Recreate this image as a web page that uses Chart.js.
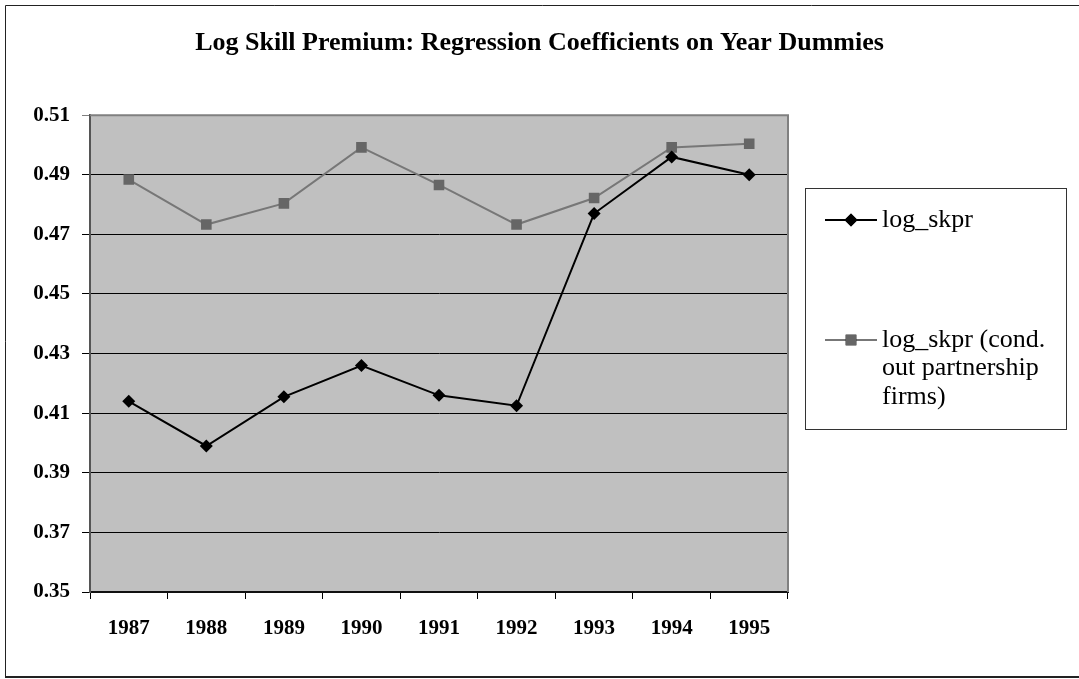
<!DOCTYPE html>
<html>
<head>
<meta charset="utf-8">
<script src="https://cdn.jsdelivr.net/npm/chart.js@4/dist/chart.umd.min.js"></script>
<style>
  html, body { margin: 0; padding: 0; background: #ffffff; }
  #wrap { width: 1079px; height: 679px; }
</style>
</head>
<body>
<div id="wrap"><canvas id="c" width="1079" height="679"></canvas></div>
<script>
// Year dummies and the estimated coefficients
const years = ['1987', '1988', '1989', '1990', '1991', '1992', '1993', '1994', '1995'];
const logSkpr = [0.414, 0.399, 0.4155, 0.426, 0.416, 0.4125, 0.477, 0.496, 0.490];
const logSkprCond = [0.4884, 0.4733, 0.4804, 0.4992, 0.4866, 0.4733, 0.4822, 0.4992, 0.5004];
const yTicks = [0.35, 0.37, 0.39, 0.41, 0.43, 0.45, 0.47, 0.49, 0.51];
const seriesNames = ['log_skpr', ['log_skpr (cond.', 'out partnership', 'firms)']];

const SERIF = "'Liberation Serif', 'Times New Roman', serif";

// Grey plot area behind the grid
const plotBackground = {
  id: 'plotBackground',
  beforeDraw(chart) {
    const { ctx, chartArea: a } = chart;
    ctx.save();
    ctx.fillStyle = '#c0c0c0';
    ctx.fillRect(a.left, a.top, a.right - a.left, a.bottom - a.top);
    ctx.restore();
  },
  beforeDatasetsDraw(chart) {
    const { ctx, chartArea: a } = chart;
    ctx.save();
    ctx.strokeStyle = '#808080';
    ctx.lineWidth = 2;
    ctx.beginPath();
    ctx.moveTo(a.left, a.top);
    ctx.lineTo(a.right, a.top);
    ctx.lineTo(a.right, a.bottom);
    ctx.stroke();
    ctx.restore();
  }
};

// Boxed legend on the right, plus the frame around the whole chart
const boxedLegend = {
  id: 'boxedLegend',
  afterDraw(chart) {
    const { ctx } = chart;
    ctx.save();
    // outer frame
    ctx.strokeStyle = '#222222';
    ctx.lineWidth = 1;
    ctx.beginPath();
    ctx.moveTo(5.5, 677);
    ctx.lineTo(5.5, 5.5);
    ctx.lineTo(1085, 5.5);
    ctx.stroke();
    ctx.lineWidth = 2;
    ctx.beginPath();
    ctx.moveTo(5, 677);
    ctx.lineTo(1085, 677);
    ctx.stroke();

    // legend box
    const box = { x: 805.5, y: 188.5, w: 261, h: 241 };
    ctx.lineWidth = 1;
    ctx.strokeStyle = '#333333';
    ctx.strokeRect(box.x, box.y, box.w, box.h);

    const rows = [220, 340];
    const lineGap = 28.5;
    chart.data.datasets.forEach((ds, i) => {
      const y = rows[i];
      ctx.strokeStyle = ds.borderColor;
      ctx.lineWidth = ds.borderWidth;
      ctx.beginPath();
      ctx.moveTo(825, y);
      ctx.lineTo(877, y);
      ctx.stroke();
      Chart.helpers.drawPoint(ctx, {
        pointStyle: ds.pointStyle,
        radius: ds.pointRadius,
        borderWidth: 0,
        rotation: 0
      }, 851, y);
      ctx.fillStyle = ds.pointBackgroundColor;
      ctx.fill();

      ctx.fillStyle = '#000000';
      ctx.font = '26px ' + SERIF;
      ctx.textAlign = 'left';
      ctx.textBaseline = 'middle';
      const lines = Array.isArray(seriesNames[i]) ? seriesNames[i] : [seriesNames[i]];
      lines.forEach((t, k) => ctx.fillText(t, 882, y + k * lineGap));
    });
    ctx.restore();
  }
};

new Chart(document.getElementById('c'), {
  type: 'line',
  data: {
    labels: years,
    datasets: [
      {
        label: 'log_skpr',
        data: logSkpr,
        borderColor: '#000000',
        borderWidth: 2,
        pointStyle: 'rectRot',
        pointRadius: 6.5,
        pointBackgroundColor: '#000000',
        pointBorderWidth: 0,
        tension: 0,
        yAxisID: 'y'
      },
      {
        label: 'log_skpr (cond. out partnership firms)',
        data: logSkprCond,
        borderColor: '#777777',
        borderWidth: 2,
        pointStyle: 'rect',
        pointRadius: 7.5,
        pointBackgroundColor: '#666666',
        pointBorderWidth: 0,
        tension: 0,
        yAxisID: 'y'
      }
    ]
  },
  options: {
    responsive: false,
    animation: false,
    devicePixelRatio: 1,
    layout: { padding: { top: 0, left: 0, right: 0, bottom: 0 } },
    plugins: {
      legend: { display: false },
      tooltip: { enabled: false },
      title: {
        display: true,
        text: 'Log Skill Premium: Regression Coefficients on Year Dummies',
        color: '#000000',
        font: { family: SERIF, size: 26, weight: 'bold' },
        padding: { top: 28, bottom: 56 }
      }
    },
    scales: {
      x: {
        type: 'category',
        offset: true,
        grid: {
          offset: true,
          drawOnChartArea: false,
          drawTicks: true,
          tickLength: 7,
          tickColor: '#000000',
          tickWidth: 1
        },
        border: { display: true, color: '#111111', width: 2 },
        ticks: {
          color: '#000000',
          font: { family: SERIF, size: 21, weight: 'bold' },
          padding: 17,
          maxRotation: 0,
          autoSkip: false
        },
        afterFit(s) { s.height = 87; }
      },
      y: {
        type: 'linear',
        position: 'left',
        min: 0.35,
        max: 0.51,
        afterBuildTicks(s) { s.ticks = yTicks.map(v => ({ value: v })); },
        grid: {
          color: (c) => (c.tick && c.tick.value >= 0.51 ? '#808080' : '#000000'),
          lineWidth: 1,
          tickLength: 8,
          tickColor: (c) => (c.tick && c.tick.value >= 0.51 ? '#808080' : '#000000')
        },
        border: { display: true, color: '#555555', width: 2 },
        ticks: {
          color: '#000000',
          font: { family: SERIF, size: 21, weight: 'bold' },
          padding: 12,
          callback: (v) => Number(v).toFixed(2)
        },
        afterFit(s) { s.width = 90; }
      },
      side: {
        type: 'linear',
        position: 'right',
        display: true,
        min: 0,
        max: 1,
        grid: { display: false, drawTicks: false },
        border: { display: false },
        ticks: { display: false },
        afterFit(s) { s.width = 291; }
      }
    }
  },
  plugins: [plotBackground, boxedLegend]
});
</script>
</body>
</html>
